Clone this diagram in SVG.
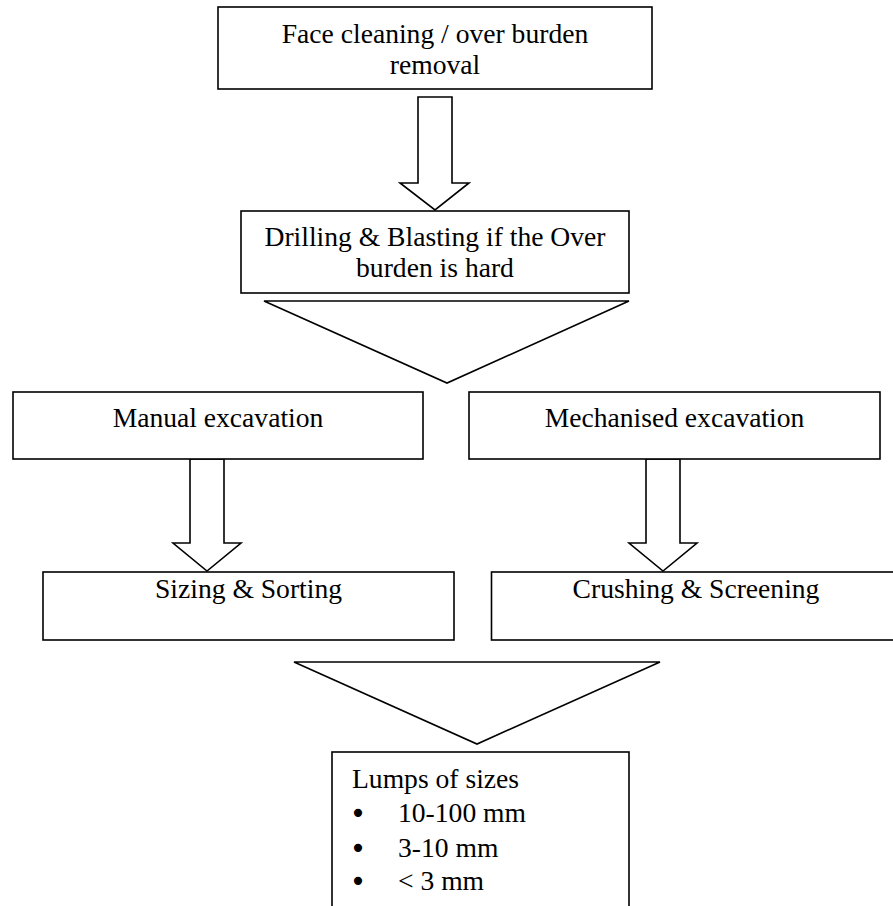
<svg xmlns="http://www.w3.org/2000/svg" width="893" height="906" viewBox="0 0 893 906">
<style>
.box{fill:#fff;stroke:#000;stroke-width:1.6}
.shape{fill:#fff;stroke:#000;stroke-width:1.6;stroke-linejoin:miter}
text{font-family:"Liberation Serif","Times New Roman",serif;font-size:27.6px;fill:#000}
.c{text-anchor:middle}
.b{text-anchor:middle;font-family:"DejaVu Sans",sans-serif;font-size:28px}
</style>
<rect width="893" height="906" fill="#fff"/>
<g id="connectors">
<polygon class="shape" points="418,97 452,97 452,183 469,183 435,210 400,183 418,183"/>
<polygon class="shape" points="264,301 629,301 447,383"/>
<polygon class="shape" points="190,459 224,459 224,543 241,543 207,571 173,543 190,543"/>
<polygon class="shape" points="646,459 680,459 680,543 697,543 663,571 629,543 646,543"/>
<polygon class="shape" points="294,662 660,662 477,744"/>
</g>
<g id="face-cleaning">
<rect class="box" x="218" y="7" width="434" height="82"/>
<text class="c" x="435" y="43">Face cleaning / over burden</text>
<text class="c" x="435" y="74">removal</text>
</g>
<g id="drilling-blasting">
<rect class="box" x="241" y="211" width="388" height="82"/>
<text class="c" x="435" y="246">Drilling &amp; Blasting if the Over</text>
<text class="c" x="435" y="277">burden is hard</text>
</g>
<g id="manual-excavation">
<rect class="box" x="13" y="392" width="410" height="67"/>
<text class="c" x="218" y="427">Manual excavation</text>
</g>
<g id="mechanised-excavation">
<rect class="box" x="469" y="392" width="411" height="67"/>
<text class="c" x="674.5" y="427">Mechanised excavation</text>
</g>
<g id="sizing-sorting">
<rect class="box" x="43" y="572" width="411" height="68"/>
<text class="c" x="248.5" y="598">Sizing &amp; Sorting</text>
</g>
<g id="crushing-screening">
<rect class="box" x="491.5" y="572" width="410" height="68"/>
<text class="c" x="696" y="598">Crushing &amp; Screening</text>
</g>
<g id="lumps">
<rect class="box" x="332" y="752" width="297" height="170"/>
<text x="352" y="788">Lumps of sizes</text>
<text class="b" x="358" y="823">•</text>
<text x="398" y="822">10-100 mm</text>
<text class="b" x="358" y="858">•</text>
<text x="398" y="857">3-10 mm</text>
<text class="b" x="358" y="891">•</text>
<text x="398" y="890">&lt; 3 mm</text>
</g>
</svg>
